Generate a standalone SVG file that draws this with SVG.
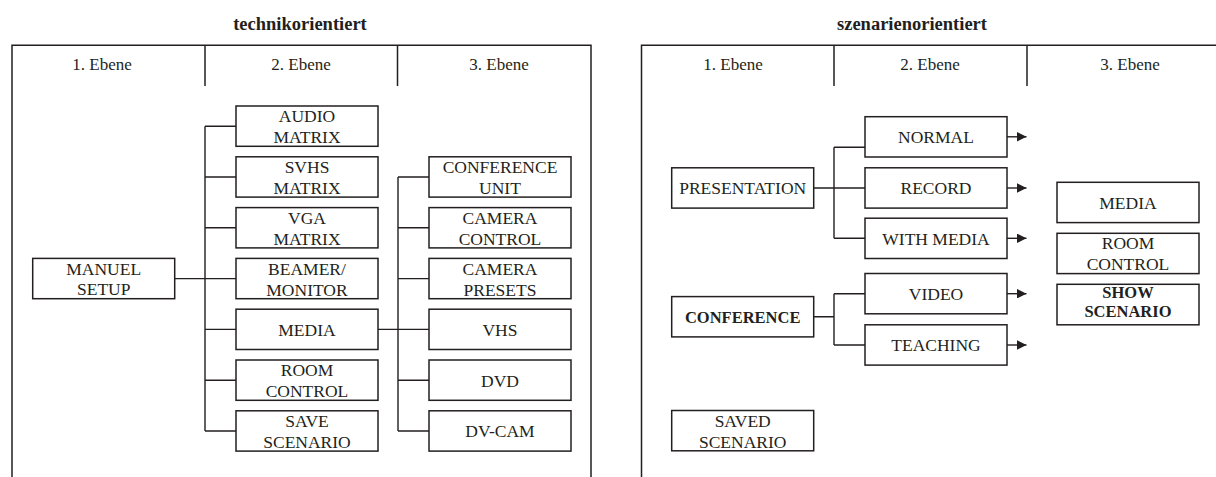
<svg xmlns="http://www.w3.org/2000/svg" width="1216" height="477" viewBox="0 0 1216 477">
<defs>
<style>
text{font-family:"Liberation Serif","Times New Roman",serif;fill:#231f20;text-anchor:middle}
.t{font-size:18.5px;font-weight:bold}
.h{font-size:17px}
.n{font-size:17.5px}
.b{font-size:16.5px;font-weight:bold}
.box{fill:#fff;stroke:#231f20;stroke-width:1.5}
.ln{fill:none;stroke:#231f20;stroke-width:1.4}
.fr{fill:none;stroke:#231f20;stroke-width:1.5}
</style>
<marker id="ah" viewBox="0 0 10 10" refX="10" refY="5" markerWidth="10" markerHeight="9.5" markerUnits="userSpaceOnUse" orient="auto">
<path d="M0,0 L10,5 L0,10 Z" fill="#231f20"/>
</marker>
</defs>
<rect width="1216" height="477" fill="#fff"/>

<g id="frames">
<text class="t" x="300" y="30">technikorientiert</text>
<path class="fr" d="M12,477 V45.3 H591 V477 M205,45.3 V86 M397.5,45.3 V86"/>
<text class="h" x="102" y="70">1. Ebene</text>
<text class="h" x="301" y="70">2. Ebene</text>
<text class="h" x="499" y="70">3. Ebene</text>
<text class="t" x="912" y="30">szenarienorientiert</text>
<path class="fr" d="M641.5,477 V45.3 H1216 M834,45.3 V86 M1027,45.3 V86"/>
<text class="h" x="733" y="70">1. Ebene</text>
<text class="h" x="930" y="70">2. Ebene</text>
<text class="h" x="1130" y="70">3. Ebene</text>
</g>

<g id="connectors">
<path class="ln" d="M175,278.6 H236 M205,126.2 V431 M205,126.2 H236 M205,177 H236 M205,227.8 H236 M205,329.4 H236 M205,380.2 H236 M205,431 H236"/>
<path class="ln" d="M378,329.4 H429 M398,177 V431 M398,177 H429 M398,227.8 H429 M398,278.6 H429 M398,380.2 H429 M398,431 H429"/>
<path class="ln" d="M814,188 H865 M834,147.3 V238.3 M834,147.3 H865 M834,238.3 H865"/>
<path class="ln" d="M814,316.7 H834 M834,293.7 V345 M834,293.7 H865 M834,345 H865"/>
<g class="ln" marker-end="url(#ah)">
<path d="M1007,136.8 H1026.5"/>
<path d="M1007,188 H1026.5"/>
<path d="M1007,238.3 H1026.5"/>
<path d="M1007,293.7 H1026.5"/>
<path d="M1007,345 H1026.5"/>
</g>
</g>

<g id="manuel-setup"><rect class="box" x="32.7" y="258.4" width="142" height="40.3"/><text class="n" x="103.7" y="274.6">MANUEL</text><text class="n" x="103.7" y="295.2">SETUP</text></g>

<g id="audio-matrix"><rect class="box" x="236" y="106" width="142" height="40.3"/><text class="n" x="307" y="122.4">AUDIO</text><text class="n" x="307" y="143.2">MATRIX</text></g>
<g id="svhs-matrix"><rect class="box" x="236" y="156.8" width="142" height="40.3"/><text class="n" x="307" y="173.2">SVHS</text><text class="n" x="307" y="194">MATRIX</text></g>
<g id="vga-matrix"><rect class="box" x="236" y="207.6" width="142" height="40.3"/><text class="n" x="307" y="224">VGA</text><text class="n" x="307" y="244.8">MATRIX</text></g>
<g id="beamer-monitor"><rect class="box" x="236" y="258.4" width="142" height="40.3"/><text class="n" x="307" y="274.8">BEAMER/</text><text class="n" x="307" y="295.6">MONITOR</text></g>
<g id="media-l"><rect class="box" x="236" y="309.2" width="142" height="40.3"/><text class="n" x="307" y="335.8">MEDIA</text></g>
<g id="room-control-l"><rect class="box" x="236" y="360" width="142" height="40.3"/><text class="n" x="307" y="376.4">ROOM</text><text class="n" x="307" y="397.2">CONTROL</text></g>
<g id="save-scenario"><rect class="box" x="236" y="410.8" width="142" height="40.3"/><text class="n" x="307" y="427.2">SAVE</text><text class="n" x="307" y="448">SCENARIO</text></g>

<g id="conference-unit"><rect class="box" x="429" y="156.8" width="142" height="40.3"/><text class="n" x="500" y="173.2">CONFERENCE</text><text class="n" x="500" y="194">UNIT</text></g>
<g id="camera-control"><rect class="box" x="429" y="207.6" width="142" height="40.3"/><text class="n" x="500" y="224">CAMERA</text><text class="n" x="500" y="244.8">CONTROL</text></g>
<g id="camera-presets"><rect class="box" x="429" y="258.4" width="142" height="40.3"/><text class="n" x="500" y="274.8">CAMERA</text><text class="n" x="500" y="295.6">PRESETS</text></g>
<g id="vhs"><rect class="box" x="429" y="309.2" width="142" height="40.3"/><text class="n" x="500" y="335.8">VHS</text></g>
<g id="dvd"><rect class="box" x="429" y="360" width="142" height="40.3"/><text class="n" x="500" y="386.6">DVD</text></g>
<g id="dv-cam"><rect class="box" x="429" y="410.8" width="142" height="40.3"/><text class="n" x="500" y="437.4">DV-CAM</text></g>

<g id="presentation"><rect class="box" x="671.7" y="167.8" width="142" height="40.3"/><text class="n" x="742.7" y="194.4">PRESENTATION</text></g>
<g id="conference"><rect class="box" x="671.7" y="296.6" width="142" height="40.3"/><text class="b" x="742.7" y="322.6">CONFERENCE</text></g>
<g id="saved-scenario"><rect class="box" x="671.7" y="410.5" width="142" height="40.3"/><text class="n" x="742.7" y="426.9">SAVED</text><text class="n" x="742.7" y="447.7">SCENARIO</text></g>

<g id="normal"><rect class="box" x="865" y="116.7" width="142" height="40.3"/><text class="n" x="936" y="143.3">NORMAL</text></g>
<g id="record"><rect class="box" x="865" y="167.8" width="142" height="40.3"/><text class="n" x="936" y="194.4">RECORD</text></g>
<g id="with-media"><rect class="box" x="865" y="218.2" width="142" height="40.3"/><text class="n" x="936" y="244.8">WITH MEDIA</text></g>
<g id="video"><rect class="box" x="865" y="273.5" width="142" height="40.3"/><text class="n" x="936" y="300.1">VIDEO</text></g>
<g id="teaching"><rect class="box" x="865" y="324.8" width="142" height="40.3"/><text class="n" x="936" y="351.4">TEACHING</text></g>

<g id="media-r"><rect class="box" x="1057" y="182.3" width="142" height="40.3"/><text class="n" x="1128" y="209">MEDIA</text></g>
<g id="room-control-r"><rect class="box" x="1057" y="233.3" width="142" height="40.3"/><text class="n" x="1128" y="249.4">ROOM</text><text class="n" x="1128" y="270.4">CONTROL</text></g>
<g id="show-scenario"><rect class="box" x="1057" y="284.3" width="142" height="40.5"/><text class="b" x="1128" y="298.3">SHOW</text><text class="b" x="1128" y="317.3">SCENARIO</text></g>
</svg>
